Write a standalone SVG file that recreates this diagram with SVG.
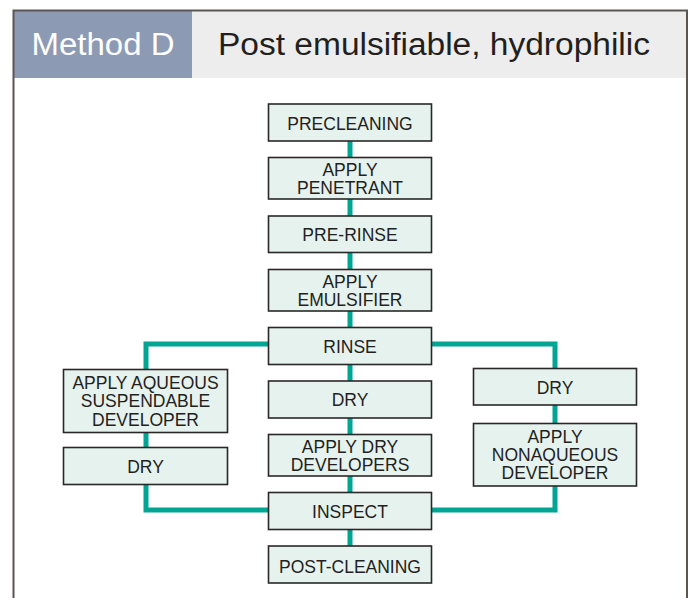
<svg xmlns="http://www.w3.org/2000/svg" width="691" height="598" viewBox="0 0 691 598">
<style>
.box{fill:#e6f2ee;stroke:#2b2726;stroke-width:1.6}
.t{font-family:"Liberation Sans",Arial,sans-serif;font-size:17.5px;fill:#231f20;text-anchor:middle}
.c{fill:none;stroke:#00a693;stroke-width:5}
</style>
<rect x="0" y="0" width="691" height="598" fill="#ffffff"/>
<g id="header">
<rect x="13" y="10" width="179" height="68" fill="#8d9ab4"/>
<rect x="192" y="10" width="495" height="68" fill="#ededed"/>
<text x="31.5" y="55" font-family="'Liberation Sans',Arial,sans-serif" font-size="31" fill="#ffffff" textLength="143" lengthAdjust="spacingAndGlyphs">Method D</text>
<text x="218" y="55" font-family="'Liberation Sans',Arial,sans-serif" font-size="31" fill="#231f20" textLength="432" lengthAdjust="spacingAndGlyphs">Post emulsifiable, hydrophilic</text>
</g>
<path d="M13.5,598 V10.5 H687 V598" fill="none" stroke="#5b5552" stroke-width="2"/>
<g id="connectors">
<path class="c" d="M350,141 V546"/>
<path class="c" d="M268,344 H146 V369"/>
<path class="c" d="M146,432 V448"/>
<path class="c" d="M146,484 V510 H268"/>
<path class="c" d="M432,344 H555 V369"/>
<path class="c" d="M555,405 V424"/>
<path class="c" d="M555,486 V510 H432"/>
</g>
<g id="precleaning"><rect class="box" x="268.5" y="104" width="163" height="37"/><text class="t" x="350" y="130">PRECLEANING</text></g>
<g id="apply-penetrant"><rect class="box" x="268.5" y="157.5" width="163" height="41.5"/><text class="t" x="350" y="175.8">APPLY</text><text class="t" x="350" y="194.3">PENETRANT</text></g>
<g id="pre-rinse"><rect class="box" x="268.5" y="216" width="163" height="36.5"/><text class="t" x="350" y="241">PRE-RINSE</text></g>
<g id="apply-emulsifier"><rect class="box" x="268.5" y="269.5" width="163" height="41.5"/><text class="t" x="350" y="287.8">APPLY</text><text class="t" x="350" y="306.3">EMULSIFIER</text></g>
<g id="rinse"><rect class="box" x="268.5" y="327.5" width="163" height="37"/><text class="t" x="350" y="352.5">RINSE</text></g>
<g id="dry-mid"><rect class="box" x="268.5" y="381" width="163" height="37"/><text class="t" x="350" y="406">DRY</text></g>
<g id="apply-dry-developers"><rect class="box" x="268.5" y="434.5" width="163" height="41.5"/><text class="t" x="350" y="452.8">APPLY DRY</text><text class="t" x="350" y="471.3">DEVELOPERS</text></g>
<g id="inspect"><rect class="box" x="268.5" y="492.5" width="163" height="37"/><text class="t" x="350" y="518">INSPECT</text></g>
<g id="post-cleaning"><rect class="box" x="268.5" y="546" width="163" height="37"/><text class="t" x="350" y="572.5">POST-CLEANING</text></g>
<g id="apply-aqueous"><rect class="box" x="63.5" y="369.5" width="164" height="63"/><text class="t" x="145.5" y="388.5">APPLY AQUEOUS</text><text class="t" x="145.5" y="407.2">SUSPENDABLE</text><text class="t" x="145.5" y="426">DEVELOPER</text></g>
<g id="dry-left"><rect class="box" x="63.5" y="447.5" width="164" height="37"/><text class="t" x="145.5" y="472.5">DRY</text></g>
<g id="dry-right"><rect class="box" x="473.5" y="368.5" width="163" height="36.5"/><text class="t" x="555" y="393.5">DRY</text></g>
<g id="apply-nonaqueous"><rect class="box" x="473.5" y="423.5" width="163" height="62.5"/><text class="t" x="555" y="442.7">APPLY</text><text class="t" x="555" y="461">NONAQUEOUS</text><text class="t" x="555" y="479.3">DEVELOPER</text></g>
</svg>
